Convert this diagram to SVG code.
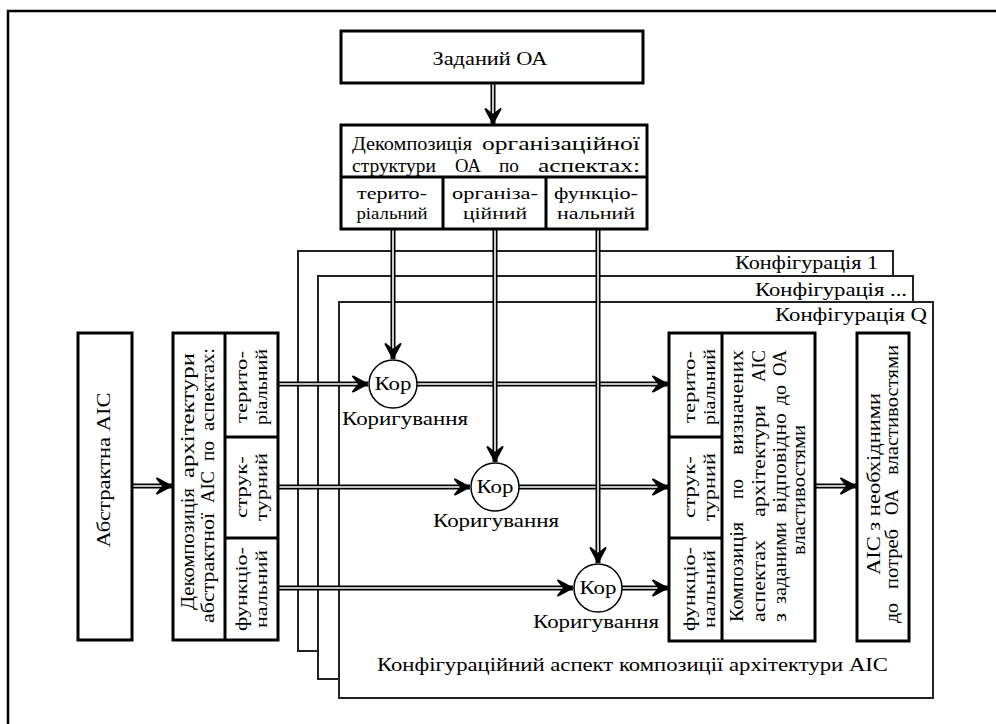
<svg xmlns="http://www.w3.org/2000/svg" width="996" height="724" viewBox="0 0 996 724">
<style>
.t{font-family:"Liberation Serif","DejaVu Serif",serif;font-size:18px;fill:#000}
.s{font-size:16px}
.m{text-anchor:middle}
.e{text-anchor:end}
.box{fill:#fff;stroke:#000;stroke-width:3}
.div{stroke:#000;stroke-width:3;fill:none}
.frame{fill:#fff;stroke:#222;stroke-width:2}
.circ{fill:#fff;stroke:#000;stroke-width:1.5}
.lo{fill:none;stroke:#000;stroke-width:5}
.li{fill:none;stroke:#fff;stroke-width:1.6;marker-end:url(#ah)}
</style>
<defs>
<marker id="ah" markerUnits="userSpaceOnUse" markerWidth="22" markerHeight="22" viewBox="-18 -11 22 22" refX="1" refY="0" orient="auto">
<path d="M0,0 L-14,-7.5 L-8,0 L-14,7.5 Z" fill="#000" stroke="#000" stroke-width="2" stroke-linejoin="round"/>
</marker>
</defs>
<rect width="996" height="724" fill="#fff"/>
<path d="M8,724 V11 H996" fill="none" stroke="#000" stroke-width="2.5"/>

<g id="frames">
<g id="frame1"><rect class="frame" x="298" y="251" width="595" height="400"/><text class="t e" x="878" y="269" textLength="143" lengthAdjust="spacingAndGlyphs">Конфігурація 1</text></g>
<g id="frame2"><rect class="frame" x="318" y="276" width="595" height="403"/><text class="t e" x="907" y="296" textLength="152" lengthAdjust="spacingAndGlyphs">Конфігурація ...</text></g>
<g id="frame3"><rect class="frame" x="339" y="302" width="594" height="396"/><text class="t e" x="927" y="321" textLength="152" lengthAdjust="spacingAndGlyphs">Конфігурація Q</text>
<text class="t" x="377" y="671" textLength="511" lengthAdjust="spacingAndGlyphs">Конфігураційний аспект композиції архітектури АІС</text></g>
</g>

<g id="connectors">
<g><path class="lo" d="M493,83 V124"/><path class="li" d="M493,83 V124"/></g>
<g><path class="lo" d="M132,486 H172"/><path class="li" d="M132,486 H172"/></g>
<g><path class="lo" d="M815,486 H856"/><path class="li" d="M815,486 H856"/></g>
<g><path class="lo" d="M278,384 H368"/><path class="li" d="M278,384 H368"/></g>
<g><path class="lo" d="M417,384 H668"/><path class="li" d="M417,384 H668"/></g>
<g><path class="lo" d="M278,487 H470"/><path class="li" d="M278,487 H470"/></g>
<g><path class="lo" d="M519,487 H668"/><path class="li" d="M519,487 H668"/></g>
<g><path class="lo" d="M278,588 H573"/><path class="li" d="M278,588 H573"/></g>
<g><path class="lo" d="M622,588 H668"/><path class="li" d="M622,588 H668"/></g>
<g><path class="lo" d="M393,229 V359"/><path class="li" d="M393,229 V359"/></g>
<g><path class="lo" d="M495,229 V462"/><path class="li" d="M495,229 V462"/></g>
<g><path class="lo" d="M598,229 V563"/><path class="li" d="M598,229 V563"/></g>
</g>

<g id="given-oa"><rect class="box" x="341" y="31" width="302" height="52"/><text class="t m" x="490" y="65" textLength="115" lengthAdjust="spacingAndGlyphs">Заданий ОА</text></g>

<g id="org-decomposition">
<rect class="box" x="341" y="125" width="306" height="104"/>
<path class="div" d="M341,177 H647 M443,177 V229 M546,177 V229"/>
<text class="t" x="352" y="150" textLength="120" lengthAdjust="spacingAndGlyphs">Декомпозиція</text>
<text class="t" x="482" y="150" textLength="158" lengthAdjust="spacingAndGlyphs">організаційної</text>
<text class="t" x="352" y="172" textLength="84" lengthAdjust="spacingAndGlyphs">структури</text>
<text class="t" x="455" y="172" textLength="26" lengthAdjust="spacingAndGlyphs">ОА</text>
<text class="t" x="499" y="172" textLength="20" lengthAdjust="spacingAndGlyphs">по</text>
<text class="t" x="538" y="172" textLength="102" lengthAdjust="spacingAndGlyphs">аспектах:</text>
<text class="t s m" x="392" y="199" textLength="70" lengthAdjust="spacingAndGlyphs">терито-</text>
<text class="t s m" x="392" y="219" textLength="71" lengthAdjust="spacingAndGlyphs">ріальний</text>
<text class="t s m" x="495" y="199" textLength="86" lengthAdjust="spacingAndGlyphs">організа-</text>
<text class="t s m" x="495" y="219" textLength="64" lengthAdjust="spacingAndGlyphs">ційний</text>
<text class="t s m" x="596" y="199" textLength="84" lengthAdjust="spacingAndGlyphs">функціо-</text>
<text class="t s m" x="596" y="219" textLength="78" lengthAdjust="spacingAndGlyphs">нальний</text>
</g>

<g id="abstract-ais"><rect class="box" x="78" y="333" width="54" height="307"/><text class="t m" transform="translate(110,470) rotate(-90)" x="0" y="0" textLength="155" lengthAdjust="spacingAndGlyphs">Абстрактна АІС</text></g>

<g id="arch-decomposition">
<rect class="box" x="173" y="333" width="105" height="307"/>
<path class="div" d="M225,333 V640 M225,437 H278 M225,538 H278"/>
<g transform="translate(194,610) rotate(-90)">
<text class="t" x="0" y="0" textLength="122" lengthAdjust="spacingAndGlyphs">Декомпозиція</text>
<text class="t" x="132" y="0" textLength="125" lengthAdjust="spacingAndGlyphs">архітектури</text>
</g>
<g transform="translate(214,623) rotate(-90)">
<text class="t" x="0" y="0" textLength="110" lengthAdjust="spacingAndGlyphs">абстрактної</text>
<text class="t" x="120" y="0" textLength="32" lengthAdjust="spacingAndGlyphs">АІС</text>
<text class="t" x="162" y="0" textLength="20" lengthAdjust="spacingAndGlyphs">по</text>
<text class="t" x="192" y="0" textLength="83" lengthAdjust="spacingAndGlyphs">аспектах:</text>
</g>
<text class="t s m" transform="translate(247,387) rotate(-90)" textLength="72" lengthAdjust="spacingAndGlyphs">терито-</text>
<text class="t s m" transform="translate(267,387) rotate(-90)" textLength="76" lengthAdjust="spacingAndGlyphs">ріальний</text>
<text class="t s m" transform="translate(247,487) rotate(-90)" textLength="62" lengthAdjust="spacingAndGlyphs">струк-</text>
<text class="t s m" transform="translate(267,487) rotate(-90)" textLength="68" lengthAdjust="spacingAndGlyphs">турний</text>
<text class="t s m" transform="translate(247,589) rotate(-90)" textLength="84" lengthAdjust="spacingAndGlyphs">функціо-</text>
<text class="t s m" transform="translate(267,589) rotate(-90)" textLength="78" lengthAdjust="spacingAndGlyphs">нальний</text>
</g>

<g id="kor1"><circle class="circ" cx="393" cy="384" r="24"/><text class="t m" x="393" y="390" textLength="37" lengthAdjust="spacingAndGlyphs">Кор</text><text class="t m" x="405" y="425" textLength="126" lengthAdjust="spacingAndGlyphs">Коригування</text></g>
<g id="kor2"><circle class="circ" cx="495" cy="487" r="24"/><text class="t m" x="495" y="493" textLength="37" lengthAdjust="spacingAndGlyphs">Кор</text><text class="t m" x="496" y="527" textLength="126" lengthAdjust="spacingAndGlyphs">Коригування</text></g>
<g id="kor3"><circle class="circ" cx="598" cy="588" r="24"/><text class="t m" x="598" y="594" textLength="37" lengthAdjust="spacingAndGlyphs">Кор</text><text class="t m" x="596" y="628" textLength="126" lengthAdjust="spacingAndGlyphs">Коригування</text></g>

<g id="composition">
<rect class="box" x="669" y="333" width="146" height="308"/>
<path class="div" d="M722,333 V641 M669,437 H722 M669,538 H722"/>
<text class="t s m" transform="translate(695,387) rotate(-90)" textLength="72" lengthAdjust="spacingAndGlyphs">терито-</text>
<text class="t s m" transform="translate(715,387) rotate(-90)" textLength="76" lengthAdjust="spacingAndGlyphs">ріальний</text>
<text class="t s m" transform="translate(695,487) rotate(-90)" textLength="62" lengthAdjust="spacingAndGlyphs">струк-</text>
<text class="t s m" transform="translate(715,487) rotate(-90)" textLength="68" lengthAdjust="spacingAndGlyphs">турний</text>
<text class="t s m" transform="translate(695,589) rotate(-90)" textLength="84" lengthAdjust="spacingAndGlyphs">функціо-</text>
<text class="t s m" transform="translate(715,589) rotate(-90)" textLength="78" lengthAdjust="spacingAndGlyphs">нальний</text>
<g transform="translate(743,622) rotate(-90)">
<text class="t" x="0" y="0" textLength="100" lengthAdjust="spacingAndGlyphs">Композиція</text>
<text class="t" x="123" y="0" textLength="20" lengthAdjust="spacingAndGlyphs">по</text>
<text class="t" x="167" y="0" textLength="105" lengthAdjust="spacingAndGlyphs">визначених</text>
</g>
<g transform="translate(765,622) rotate(-90)">
<text class="t" x="0" y="0" textLength="82" lengthAdjust="spacingAndGlyphs">аспектах</text>
<text class="t" x="105" y="0" textLength="112" lengthAdjust="spacingAndGlyphs">архітектури</text>
<text class="t" x="240" y="0" textLength="32" lengthAdjust="spacingAndGlyphs">АІС</text>
</g>
<g transform="translate(786,622) rotate(-90)">
<text class="t" x="0" y="0" textLength="9" lengthAdjust="spacingAndGlyphs">з</text>
<text class="t" x="18" y="0" textLength="82" lengthAdjust="spacingAndGlyphs">заданими</text>
<text class="t" x="109" y="0" textLength="100" lengthAdjust="spacingAndGlyphs">відповідно</text>
<text class="t" x="217" y="0" textLength="20" lengthAdjust="spacingAndGlyphs">до</text>
<text class="t" x="246" y="0" textLength="26" lengthAdjust="spacingAndGlyphs">ОА</text>
</g>
<text class="t m" transform="translate(805,490) rotate(-90)" textLength="130" lengthAdjust="spacingAndGlyphs">властивостями</text>
</g>

<g id="result-ais">
<rect class="box" x="857" y="333" width="52" height="308"/>
<text class="t m" transform="translate(880,484) rotate(-90)" textLength="182" lengthAdjust="spacingAndGlyphs">АІС з необхідними</text>
<g transform="translate(898,623) rotate(-90)">
<text class="t" x="0" y="0" textLength="20" lengthAdjust="spacingAndGlyphs">до</text>
<text class="t" x="34" y="0" textLength="60" lengthAdjust="spacingAndGlyphs">потреб</text>
<text class="t" x="108" y="0" textLength="26" lengthAdjust="spacingAndGlyphs">ОА</text>
<text class="t" x="148" y="0" textLength="130" lengthAdjust="spacingAndGlyphs">властивостями</text>
</g>
</g>
</svg>
